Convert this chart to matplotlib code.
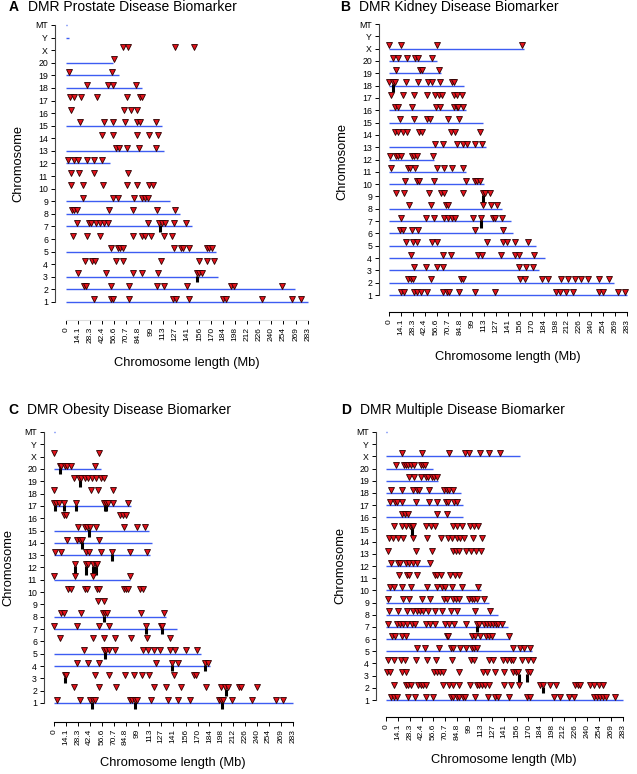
import matplotlib
matplotlib.use('Agg')
import matplotlib.pyplot as plt

plt.rcParams['font.family'] = ['Liberation Sans', 'DejaVu Sans']

chrom_labels = [str(i) for i in range(1, 21)] + ['X', 'Y', 'MT']
xtick_labels = ['0', '14.1', '28.3', '42.4', '56.6', '70.7', '84.8', '99', '113', '127',
                '141', '156', '170', '184', '198', '212', '226', '240', '254', '269', '283']

# ---------------- Panel A: prostate ----------------
prostate_dmr = {
    'X': [66.5, 72, 128, 150],
    '20': [55.6],
    '19': [3, 53.7],
    '18': [25, 48.6, 54.4, 82],
    '17': [5, 9.7, 17.5, 36, 71, 86, 88.6],
    '16': [6, 68, 75.8, 83.6],
    '15': [16.7, 44.7, 54.4, 69, 82.8, 86, 105],
    '14': [42, 54.4, 83.6, 97.6, 107.3],
    '13': [58.3, 61.4, 71, 85.5, 105.4],
    '12': [2.7, 9, 13.6, 24.5, 33, 42],
    '11': [5.4, 15.5, 33, 73],
    '10': [6.2, 19.8, 43, 71, 83.6, 97.6, 101.5],
    '9': [19.4, 54.4, 61, 80, 88.6, 91.8, 96.4],
    '8': [7, 9.7, 12.8, 49.8, 78, 106, 127.5],
    '7': [12.8, 26.4, 29.5, 35, 40, 45, 48.6, 95.6, 109, 112, 116, 126, 140],
    '6': [7.8, 24.5, 40, 77.8, 88.6, 91.8, 99.5, 114.7, 124.4],
    '5': [52.9, 60.7, 63.4, 66.5, 126.7, 134, 137, 143.9, 164.5, 167.6, 171],
    '4': [21.8, 30.3, 34.2, 58.3, 66.5, 111, 156, 165, 173.4],
    '3': [14, 46.7, 77.8, 89.4, 107.3, 152.8, 155.5, 159.4],
    '2': [20.6, 23.7, 52.9, 73.9, 106, 114.7, 142, 192.5, 196.3, 252.7],
    '1': [33, 52.9, 54.8, 73.9, 125.6, 128.3, 144.2, 184, 187, 229.4, 264.4, 275.3],
}
prostate_lines = {'MT': 1.5, 'Y': 3, '20': 55, '19': 62, '18': 89, '15': 112, '13': 115,
                  '12': 52, '9': 122, '8': 133, '7': 147, '5': 175, '3': 178, '2': 268, '1': 283}
prostate_bars = {'7': [[109.5, 0.45]], '3': [[153.6, 0.45]]}

# ---------------- Panel B: kidney ----------------
kidney_dmr = {
    'X': [0.4, 14.2, 57.4, 158.3],
    '20': [4.4, 11, 21.8, 30.9, 34, 50.7],
    '19': [8.3, 36.8, 38.8, 59.8],
    '18': [0.4, 5.1, 7.1, 20.2, 34.8, 46.7, 50.7, 60.5, 75.2, 77.2],
    '17': [2.4, 17, 29.7, 44.7, 54.6, 59.8, 62.5, 77.2, 81.1, 87],
    '16': [7.1, 11, 27.3, 55.8, 60.5, 77.6, 80.3, 82.3, 87.5],
    '15': [13, 29.7, 45.5, 48.7, 69.6, 82.7],
    '14': [7.5, 10.3, 17, 21, 35.6, 39.6, 73.6, 78.4, 108],
    '13': [55, 64.5, 80.3, 88.2, 92.2, 102.5, 110.8],
    '12': [1.2, 8.3, 11, 13.8, 27.7, 30, 32.8, 52.6],
    '11': [2, 23, 25, 30.9, 56.6, 65.3, 74.4, 88.2],
    '10': [19, 32.8, 35.6, 53.8, 91.4, 102, 104.9, 108],
    '9': [8.3, 18.2, 47.5, 61.7, 65.7, 88.2, 111.2, 114, 120],
    '8': [24, 49.9, 67.7, 70.4, 112, 120.7, 128.6],
    '7': [13.8, 43.9, 53.8, 65.3, 70.4, 74.4, 78.4, 100, 109.2, 123.9, 126.6, 133.8],
    '6': [13, 17, 27.7, 34.8, 102.5, 135.7],
    '5': [20.2, 29, 32.8, 50.7, 56.6, 117, 135.7, 140.5, 150.4, 165.4],
    '4': [25.7, 63.7, 73.6, 106, 110, 132.6, 150.4, 154.7, 172.5],
    '3': [29.7, 43.9, 56.6, 64.5, 154.3, 163.4, 171.3],
    '2': [22.2, 25.7, 28.9, 49.9, 85.5, 87.5, 155.5, 161.5, 182.4, 189, 204.2, 212.9,
          221.6, 228.7, 236.6, 249.3, 261.6],
    '1': [13.8, 17.8, 29.7, 33.6, 38, 44.7, 64.5, 68.5, 71.6, 83.5, 102, 126.6, 198.3,
          203.8, 210, 218.8, 249.3, 254.5, 272.3, 280.2],
}
kidney_lines = {'X': 160, '20': 56.6, '19': 61.7, '18': 89, '16': 91, '15': 112, '13': 114.8,
                '12': 53.4, '11': 91, '10': 113, '8': 133.8, '7': 145.6, '6': 148, '5': 174.5,
                '4': 185, '3': 178, '2': 267, '1': 283}
kidney_bars = {'18': [[5.1, 0.5]], '9': [[112, 0.6]], '7': [[109.2, 0.55]]}

# ---------------- Panel C: obesity ----------------
obesity_dmr = {
    'X': [0, 53.3],
    '20': [6.7, 8.7, 12.6, 15.8, 20.5, 48.1],
    '19': [23.3, 29.6, 32.4, 36.3, 40.3, 45.4, 50.1, 56, 59.2],
    '18': [0, 44.2, 52.1, 69.8],
    '17': [0, 2.8, 5.9, 11.4, 25.7, 58.8, 61.2, 63.9, 69.8, 87.6],
    '16': [11.8, 14.6, 78.5, 81.7, 84.8],
    '15': [28.4, 36.3, 39.1, 42.2, 49.3, 82.9, 98.7, 108.1],
    '14': [15.8, 27.2, 30.4, 33.5, 52.9],
    '13': [0.8, 8.7, 37.5, 41.4, 55.2, 69.1, 89.6, 110.5],
    '12': [24.5, 37.5, 40.3, 46.2, 49.3, 50.9],
    '11': [0, 24.5, 46.2, 89.6],
    '10': [16.6, 19.7, 36.3, 39.5, 51.3, 53.3, 82.9, 85.6, 87.6, 102.2, 105.4],
    '9': [52.1, 59.2],
    '8': [8.7, 11.4, 32.4, 58, 60.8, 62.7, 103.4, 130.2],
    '7': [0, 27.6, 52.9, 65.1, 109.3, 126.3, 128.3],
    '6': [6.7, 46.2, 58.8, 72.6, 91.6, 110.5, 136.9],
    '5': [35.1, 59.2, 62, 64.7, 72.6, 105.4, 111.3, 118, 125.9, 137.7, 143.6, 156.7, 169.7],
    '4': [27.2, 40.3, 53.3, 121.2, 140.1, 146.8, 178.4, 182.3],
    '3': [12.6, 14.6, 48.1, 65.1, 83.7, 94.7, 104.2, 112.5, 142.1, 165.7, 168.5],
    '2': [23.3, 52.9, 73, 118.4, 132.2, 150, 180.3, 198.1, 202, 206, 219, 221.8, 240.7],
    '1': [3.9, 30.4, 43, 46.2, 48.1, 89.6, 92.3, 95.5, 98.3, 115.2, 135, 146.8, 160.6,
          195.3, 198.1, 200.1, 211.1, 234.8, 263.2, 271.1],
}
obesity_lines = {'MT': 0.8, '20': 56, '17': 91.6, '15': 112, '14': 116, '13': 114, '11': 89.6,
                 '8': 133, '7': 146, '5': 174.4, '4': 184.3, '1': 283}
obesity_bars = {'20': [[7.5, 0.45]], '19': [[30.4, 0.5]],
                '17': [[0.8, 0.4], [11.4, 0.45], [25.7, 0.45], [60, 0.45], [62, 0.45]],
                '15': [[41.4, 0.5]], '14': [[33.1, 0.5]], '13': [[69.1, 0.5]],
                '12': [[24.5, 0.6], [37.5, 0.6], [46.5, 0.6], [49.5, 0.6]],
                '8': [[58.8, 0.4]], '7': [[109.3, 0.4], [127.3, 0.4]], '5': [[60, 0.4]],
                '4': [[140.1, 0.4], [178.4, 0.4]], '3': [[13, 0.4]], '2': [[204, 0.4]],
                '1': [[45.4, 0.45], [95.5, 0.45], [199.3, 0.45]]}

# ---------------- Panel D: multiple ----------------
multiple_dmr = {
    'X': [18.7, 42.6, 75.7, 94.5, 99.2, 112.4, 123.2, 136.3],
    '20': [12, 21.5, 23.9, 26.7, 29.9, 33.9, 41.5, 43.8, 46.6],
    '19': [27.9, 33.5, 41.8, 47.8, 50.6, 54.6, 57.8, 60.6],
    '18': [6, 18.7, 32.7, 36.7, 39.9, 51.8, 69.7, 72.5, 75.3, 79.7],
    '17': [4.8, 10.8, 13.6, 18.7, 35.9, 51.8, 61.4, 71.7, 74.5, 81.7, 84.5],
    '16': [18.7, 22.7, 26.7, 60.6, 73.3],
    '15': [10, 18.7, 23.9, 28.7, 30.7, 32.7, 47.8, 53.4, 58.6, 79.7, 84.5, 90.5, 100.4,
           105.6, 110.4],
    '14': [3.6, 8.8, 14, 20.7, 32.7, 49.4, 65.4, 74.5, 78.5, 85.3, 88.5, 93.3, 103.6, 115.2],
    '13': [2.8, 35.9, 54.6, 80.5, 83.7, 87.7, 95.3, 101.6, 107.2, 113.2],
    '12': [6, 14, 16.7, 23.9, 27.9, 32.7, 36.7, 52.6],
    '11': [15.9, 24.7, 27.9, 36.7, 58.6, 61.4, 65.8, 76.5, 82.5, 87.7],
    '10': [4.8, 10, 19.5, 29.5, 49.4, 61.4, 66.6, 70.5, 78.5, 90.5, 110.4],
    '9': [2.8, 19.9, 27.5, 42.6, 52.6, 69.7, 73.3, 79.7, 83.3, 87.7, 99.2, 102.4, 105.2,
          108.4, 117.6],
    '8': [3.6, 14, 25.5, 32.7, 36.7, 40.7, 44.6, 49.8, 58.6, 66.6, 77.3, 85.3, 106.4, 123.6],
    '7': [2.8, 13.6, 16.7, 20.7, 25.5, 30.7, 34.7, 47.8, 52.6, 58.6, 70.5, 75.7, 81.7, 95.7,
          109.2, 111.6, 117.2, 120.4, 123.6, 127.5, 131.1, 134.3, 138.3],
    '6': [6.8, 10.8, 18.7, 23.9, 72.5, 74.5, 102.4, 106.4, 112.4, 119.6, 122.4, 126.3, 147.1],
    '5': [36.7, 46.6, 63.4, 77.3, 80.5, 88.5, 95.3, 102.4, 105.2, 108.4, 152.2, 160.2,
          164.2, 171.4],
    '4': [2.8, 9.6, 17.5, 22.7, 35.5, 49.4, 59.4, 79.3, 101.2, 105.2, 122.4, 128.3, 140.3,
          144.3, 149.1, 152.2, 162.2, 169.4, 175],
    '3': [0.8, 4.8, 18.7, 23.5, 57.4, 60.6, 64.6, 68.5, 87.7, 115.6, 120.4, 130.3, 141.1,
          151.5, 155.5, 158.2, 169, 172.2],
    '2': [9.6, 23.9, 26.7, 29.9, 38.7, 41.8, 44.6, 47.8, 68.5, 75.7, 79.7, 87.7, 100.4,
          108.4, 111.6, 114.4, 118.4, 122.4, 141.1, 149.5, 159, 184.1, 187, 196.2, 203.3,
          226, 228.8, 231.9, 243.1, 247.9, 253.9, 259.1],
    '1': [5.6, 9.6, 13.6, 26.7, 34.7, 47.8, 56.6, 77.3, 80.5, 84.5, 87.7, 91.7, 94.5, 106.4,
          121.6, 130.3, 134.3, 147.1, 168.2, 171.4, 200.9, 208, 218, 224, 247.9, 251.9,
          255.1, 259.1, 263.1, 273.8],
}
multiple_lines = {'MT': 0.8, 'X': 160.2, '20': 56.6, '19': 62.6, '18': 89.3, '17': 91.7,
                  '16': 91.7, '12': 52.6, '10': 113.6, '9': 122.4, '8': 133.5, '7': 145.5,
                  '6': 148.3, '5': 174.2, '1': 283}
multiple_bars = {'15': [[30.7, 0.65]], '7': [[109.2, 0.45]],
                 '3': [[158.9, 0.5], [168.5, 0.5]], '2': [[186.9, 0.45]]}

W, H = 637, 774
RED = '#e3121b'
BLUE = '#3d5cf2'

fig = plt.figure(figsize=(W / 100, H / 100), dpi=100)


def panel(letter, title, dmr, lines, bars, yspine, x0, x283, chr1, mt, xaxis,
          title_pos, ylab_pos, xlab_pos, xspine_color='black'):
    left, right = yspine, x283 + 8
    top, bottom = mt - 8, xaxis
    s = (x283 - x0) / 283.0
    t = (chr1 - mt) / 22.0
    ax = fig.add_axes([left / W, 1 - bottom / H, (right - left) / W, (bottom - top) / H])
    ax.set_xlim((left - x0) / s, (right - x0) / s)
    ax.set_ylim(1 - (bottom - chr1) / t, 23 + (mt - top) / t)
    ax.patch.set_alpha(0)
    for sp in ('top', 'right'):
        ax.spines[sp].set_visible(False)
    ax.spines['left'].set_bounds(1, 23)
    ax.spines['bottom'].set_bounds(0, 283)
    ax.spines['left'].set_color('#444444')
    ax.spines['bottom'].set_color(xspine_color)
    ax.spines['left'].set_linewidth(0.8)
    ax.spines['bottom'].set_linewidth(0.8)
    ax.set_yticks(range(1, 24))
    ax.set_yticklabels(chrom_labels, fontsize=6.3)
    ax.set_xticks([float(v) for v in xtick_labels])
    ax.set_xticklabels(xtick_labels, fontsize=6, rotation=90)
    ax.tick_params(axis='both', length=3, width=0.7, pad=2, colors='black')

    for lab, L in lines.items():
        y = chrom_labels.index(lab) + 1
        ax.plot([0, L], [y, y], color=BLUE, lw=1.0, solid_capstyle='butt', zorder=1)
    for lab, bl in bars.items():
        y = chrom_labels.index(lab) + 1
        for bx, d in bl:
            ax.vlines(bx, y - d, y + 0.1, color='black', lw=2.2, zorder=2)
    for lab, xs in dmr.items():
        y = chrom_labels.index(lab) + 1
        ax.plot(xs, [y + 0.27] * len(xs), linestyle='none', marker='v', ms=4.9,
                mfc=RED, mec='#2a0000', mew=0.6, zorder=3)

    fig.text(title_pos[0] / W, 1 - title_pos[1] / H, letter, fontsize=10,
             fontweight='bold', ha='left', va='center')
    fig.text((title_pos[0] + 19) / W, 1 - title_pos[1] / H, title, fontsize=10,
             ha='left', va='center')
    fig.text(ylab_pos[0] / W, 1 - ylab_pos[1] / H, 'Chromosome', fontsize=9.3,
             rotation=90, ha='center', va='center')
    fig.text(xlab_pos[0] / W, 1 - xlab_pos[1] / H, 'Chromosome length (Mb)', fontsize=9.3,
             ha='center', va='center')
    return ax


panel('A', 'DMR Prostate Disease Biomarker', prostate_dmr, prostate_lines, prostate_bars,
      55, 66, 308, 302, 25, 320, (9, 7), (18, 164), (187, 363), xspine_color='#dddddd')
panel('B', 'DMR Kidney Disease Biomarker', kidney_dmr, kidney_lines, kidney_bars,
      379, 389, 627, 295, 24, 312, (340, 7), (342, 162), (508, 357))
panel('C', 'DMR Obesity Disease Biomarker', obesity_dmr, obesity_lines, obesity_bars,
      44, 54, 293, 703, 432, 722, (8, 410), (8, 567), (173, 763))
panel('D', 'DMR Multiple Disease Biomarker', multiple_dmr, multiple_lines, multiple_bars,
      376, 386, 623, 700, 432, 717, (341, 410), (340, 565), (504, 760))

fig.savefig('out.png', dpi=100)
